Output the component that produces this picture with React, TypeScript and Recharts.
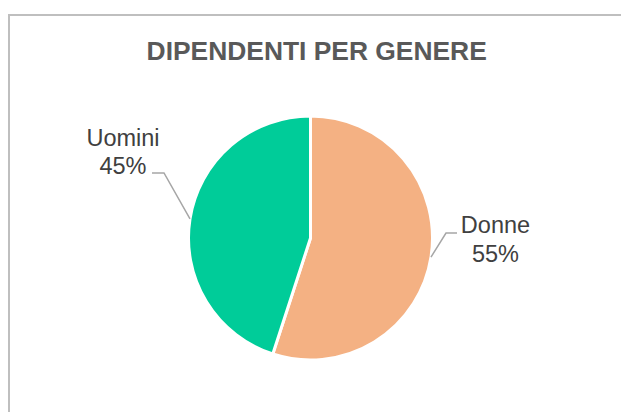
import React from "react";
import { PieChart, Pie, Cell } from "recharts";

const categories = ["Donne", "Uomini"];
const values = [55, 45];
const colors = ["#F4B183", "#00CC99"];

const data = categories.map((name, i) => ({ name, value: values[i] }));

// label layout (elbow offset from slice edge, end of leader, text anchor offsets)
const labelLayout: Record<string, { ex: number; ey: number; hx: number; tx: number; ty1: number; ty2: number }> = {
  Donne: { ex: 15, ey: -24, hx: 11, tx: 38.5, ty1: 0, ty2: 29 },
  Uomini: { ex: -26, ey: -46, hx: -12, tx: -29, ty1: -27, ty2: 1 },
};

const RADIAN = Math.PI / 180;

const renderLabel = (props: any) => {
  const { cx, cy, midAngle, outerRadius, name, percent } = props;
  const sx = cx + outerRadius * Math.cos(-midAngle * RADIAN);
  const sy = cy + outerRadius * Math.sin(-midAngle * RADIAN);
  const l = labelLayout[name];
  const mx = sx + l.ex;
  const my = sy + l.ey;
  const ex = mx + l.hx;
  const ey = my;
  const tx = ex + l.tx;
  return (
    <g>
      <polyline
        points={`${sx},${sy} ${mx},${my} ${ex},${ey}`}
        fill="none"
        stroke="#A6A6A6"
        strokeWidth={1.5}
      />
      <text
        x={tx}
        y={ey + l.ty1}
        textAnchor="middle"
        fill="#404040"
        fontSize={23.5}
        fontFamily="Liberation Sans, Arial, sans-serif"
      >
        {name}
      </text>
      <text
        x={tx}
        y={ey + l.ty2}
        textAnchor="middle"
        fill="#404040"
        fontSize={23.5}
        fontFamily="Liberation Sans, Arial, sans-serif"
      >
        {`${Math.round(percent * 100)}%`}
      </text>
    </g>
  );
};

export default function App() {
  return (
    <div
      style={{
        position: "absolute",
        left: 0,
        top: 0,
        width: 621,
        height: 412,
        overflow: "hidden",
        background: "#fff",
      }}
    >
      <div
        style={{
          position: "absolute",
          left: 8,
          top: 14,
          width: 700,
          height: 500,
          border: "2px solid #BFBFBF",
          boxSizing: "border-box",
        }}
      />
      <div style={{ position: "absolute", left: 0, top: 0 }}>
        <PieChart width={621} height={412} margin={{ top: 0, right: 0, bottom: 0, left: 0 }}>
          <text
            x={316.7}
            y={60}
            textAnchor="middle"
            fill="#595959"
            fontSize={26.4}
            fontWeight="bold"
            fontFamily="Liberation Sans, Arial, sans-serif"
          >
            DIPENDENTI PER GENERE
          </text>
          <Pie
            data={data}
            dataKey="value"
            nameKey="name"
            cx={310.5}
            cy={238}
            outerRadius={122}
            startAngle={90}
            endAngle={-270}
            stroke="#FFFFFF"
            strokeWidth={3}
            label={renderLabel}
            labelLine={false}
            isAnimationActive={false}
          >
            {data.map((d, i) => (
              <Cell key={d.name} fill={colors[i]} />
            ))}
          </Pie>
        </PieChart>
      </div>
    </div>
  );
}
